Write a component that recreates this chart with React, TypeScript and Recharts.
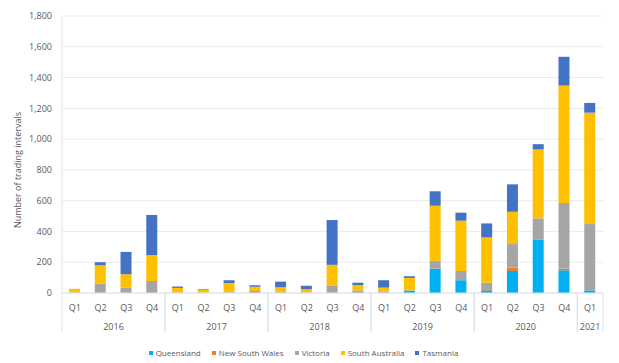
import { BarChart, Bar, XAxis, YAxis, CartesianGrid, Legend } from "recharts";

const quarters = ["Q1", "Q2", "Q3", "Q4", "Q1", "Q2", "Q3", "Q4", "Q1", "Q2", "Q3", "Q4", "Q1", "Q2", "Q3", "Q4", "Q1", "Q2", "Q3", "Q4", "Q1"];
const years = ["2016", "2016", "2016", "2016", "2017", "2017", "2017", "2017", "2018", "2018", "2018", "2018", "2019", "2019", "2019", "2019", "2020", "2020", "2020", "2020", "2021"];

const queensland = [0, 0, 0, 0, 0, 0, 2, 0, 0, 0, 0, 0, 3, 15, 158, 83, 13, 143, 348, 148, 17];
const newSouthWales = [0, 0, 0, 0, 0, 0, 0, 0, 0, 0, 0, 0, 0, 0, 0, 0, 0, 22, 0, 11, 0];
const victoria = [3, 60, 35, 78, 3, 2, 3, 13, 5, 3, 46, 17, 8, 3, 51, 60, 54, 153, 137, 426, 431];
const southAustralia = [24, 120, 87, 168, 30, 18, 60, 28, 32, 22, 137, 35, 24, 80, 358, 327, 294, 210, 448, 763, 724];
const tasmania = [0, 20, 145, 261, 9, 4, 18, 9, 37, 22, 291, 15, 48, 11, 94, 52, 91, 178, 34, 187, 63];

const yTicks = [0, 200, 400, 600, 800, 1000, 1200, 1400, 1600, 1800];

const series = [
  { key: "qld", name: "Queensland", color: "#00B0F0" },
  { key: "nsw", name: "New South Wales", color: "#ED7D31" },
  { key: "vic", name: "Victoria", color: "#A5A5A5" },
  { key: "sa", name: "South Australia", color: "#FFC000" },
  { key: "tas", name: "Tasmania", color: "#4472C4" },
];

const data = quarters.map((q, i) => ({
  id: i,
  quarter: q,
  year: years[i],
  qld: queensland[i],
  nsw: newSouthWales[i],
  vic: victoria[i],
  sa: southAustralia[i],
  tas: tasmania[i],
}));

const W = 619;
const H = 363;
const LEFT = 62;
const RIGHT = 16;
const BAND = (W - LEFT - RIGHT) / quarters.length;
const TEXT = "#595959";
const FONT = "'Open Sans', sans-serif";

const QuarterTick = (props: any) => {
  const { x, y, payload } = props;
  const i = payload.index;
  const yr = years[i];
  const first = i === 0 || years[i - 1] !== yr;
  const last = i === years.length - 1 || years[i + 1] !== yr;
  let n = 0;
  years.forEach((v) => (v === yr ? n++ : null));
  return (
    <g>
      <text x={x} y={y + 18} textAnchor="middle" fontSize={9} fill={TEXT} fontFamily={FONT}>
        {quarters[i]}
      </text>
      {first && (
        <>
          <line x1={x - BAND / 2} x2={x - BAND / 2} y1={y} y2={y + 39} stroke="#DDE3EA" />
          <text x={x - BAND / 2 + (n * BAND) / 2} y={y + 37} textAnchor="middle" fontSize={9} fill={TEXT} fontFamily={FONT}>
            {yr}
          </text>
        </>
      )}
      {last && <line x1={x + BAND / 2} x2={x + BAND / 2} y1={y} y2={y + 39} stroke="#DDE3EA" />}
    </g>
  );
};

const renderLegend = () => (
  <div style={{ display: "flex", justifyContent: "center", gap: 11, fontFamily: FONT, fontSize: 8, color: TEXT, paddingLeft: 4 }}>
    {series.map((s) => (
      <span key={s.key} style={{ display: "flex", alignItems: "center" }}>
        <span style={{ width: 4, height: 4, background: s.color, marginRight: 3, display: "inline-block" }} />
        {s.name}
      </span>
    ))}
  </div>
);

export default function App() {
  return (
    <div style={{ position: "absolute", left: 0, top: 0, width: W, height: H, background: "#fff" }}>
      <BarChart width={W} height={H} data={data} margin={{ top: 16, right: RIGHT, left: 0, bottom: 14 }} barSize={11}>
        <CartesianGrid vertical={false} stroke="#EBEBEB" />
        <XAxis
          dataKey="id"
          interval={0}
          height={45}
          tickLine={false}
          tickSize={0}
          tickMargin={0}
          axisLine={{ stroke: "#DDE3EA" }}
          tick={<QuarterTick />}
        />
        <YAxis
          width={LEFT}
          domain={[0, 1800]}
          ticks={yTicks}
          tickFormatter={(v: number) => v.toLocaleString("en-US")}
          tick={{ fontSize: 9, fill: TEXT, fontFamily: FONT }}
          tickLine={false}
          tickSize={8}
          tickMargin={2}
          axisLine={{ stroke: "#DDE3EA" }}
          label={{
            content: () => (
              <text x={21} y={170} transform="rotate(-90 21 170)" textAnchor="middle" fontSize={9} fill={TEXT} fontFamily={FONT}>
                Number of trading intervals
              </text>
            ),
          }}
        />
        {series.map((s) => (
          <Bar key={s.key} dataKey={s.key} name={s.name} stackId="a" fill={s.color} isAnimationActive={false} />
        ))}
        <Legend content={renderLegend} verticalAlign="bottom" wrapperStyle={{ bottom: 5 }} />
      </BarChart>
    </div>
  );
}
